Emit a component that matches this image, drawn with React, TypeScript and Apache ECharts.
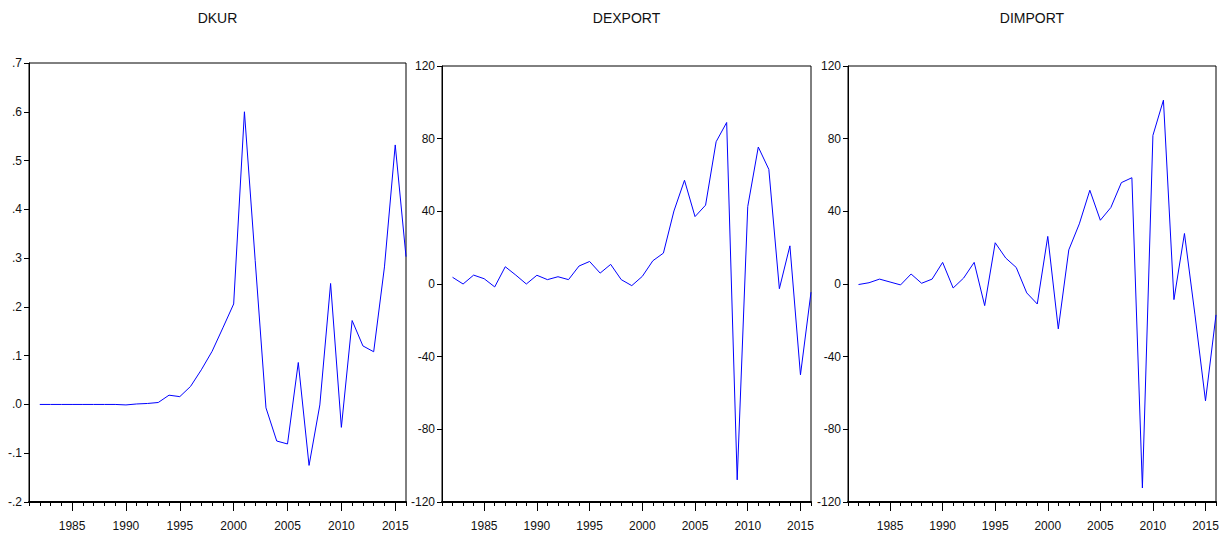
import React, { useEffect, useRef } from "react";
import * as echarts from "echarts";

const years = [1982, 1983, 1984, 1985, 1986, 1987, 1988, 1989, 1990, 1991, 1992, 1993, 1994, 1995, 1996, 1997, 1998, 1999, 2000, 2001, 2002, 2003, 2004, 2005, 2006, 2007, 2008, 2009, 2010, 2011, 2012, 2013, 2014, 2015, 2016];
const dkur = [0, 0, 0, 0, 0, 0, 0, 0, -0.001, 0.001, 0.002, 0.004, 0.019, 0.016, 0.037, 0.071, 0.109, 0.157, 0.206, 0.6, 0.295, -0.007, -0.075, -0.081, 0.086, -0.125, -0.001, 0.248, -0.047, 0.172, 0.12, 0.108, 0.282, 0.532, 0.303];
const dexport = [3.7, 0, 4.9, 2.9, -1.6, 9.5, 4.9, 0, 4.8, 2.4, 4.0, 2.4, 9.9, 12.4, 6.0, 10.8, 2.4, -0.9, 4.2, 12.8, 17.0, 40.2, 57.1, 37.1, 43.4, 78.3, 88.9, -107.8, 42.6, 75.4, 63.1, -2.6, 21.0, -50.0, -4.5];
const dimport = [-0.3, 0.7, 2.7, 1.1, -0.5, 5.5, 0.4, 2.7, 11.9, -2.2, 3.3, 11.9, -11.9, 22.7, 14.3, 9.1, -4.9, -11.0, 26.2, -24.7, 18.8, 33.1, 51.6, 35.1, 42.1, 55.8, 58.5, -112.3, 81.8, 101.2, -8.6, 27.8, -17, -64.3, -17];
const titles = ["DKUR", "DEXPORT", "DIMPORT"];
const majorYears = [1985, 1990, 1995, 2000, 2005, 2010, 2015];
const allYears = [1981, 1982, 1983, 1984, 1985, 1986, 1987, 1988, 1989, 1990, 1991, 1992, 1993, 1994, 1995, 1996, 1997, 1998, 1999, 2000, 2001, 2002, 2003, 2004, 2005, 2006, 2007, 2008, 2009, 2010, 2011, 2012, 2013, 2014, 2015, 2016];

const FONT = "'Liberation Sans Narrow', 'Arial Narrow', 'Liberation Sans', Arial, sans-serif";

export default function App() {
  const ref = useRef<HTMLDivElement>(null);
  useEffect(() => {
    if (!ref.current) return;
    const chart = echarts.init(ref.current, undefined, { renderer: "svg" });
    const grids = [
      { left: 29, top: 63, width: 377, height: 439 },
      { left: 442, top: 66, width: 369, height: 436 },
      { left: 848, top: 66, width: 368, height: 436 },
    ];
    const seriesData = [dkur, dexport, dimport];
    const yConf = [
      { min: -0.2, max: 0.7, interval: 0.1, fmt: (v: number) => v.toFixed(1).replace("0.", ".") },
      { min: -120, max: 120, interval: 40, fmt: (v: number) => String(Math.round(v)) },
      { min: -120, max: 120, interval: 40, fmt: (v: number) => String(Math.round(v)) },
    ];
    const xAxis: any[] = [];
    const yAxis: any[] = [];
    const series: any[] = [];
    grids.forEach((g, i) => {
      xAxis.push({
        type: "value", gridIndex: i, min: 1981, max: 2016, position: "bottom",
        splitLine: { show: false },
        axisLine: { show: true, onZero: false, lineStyle: { color: "#000", width: 2 } },
        axisTick: { show: true, length: 9, customValues: majorYears, lineStyle: { color: "#000", width: 1 } },
        axisLabel: { show: true, customValues: majorYears, margin: 18, color: "#111", fontSize: 12, fontFamily: FONT, formatter: (v: number) => String(v) },
      });
      xAxis.push({
        type: "value", gridIndex: i, min: 1981, max: 2016, position: "bottom",
        splitLine: { show: false },
        axisLine: { show: false, onZero: false },
        axisTick: { show: true, length: 4, customValues: allYears, lineStyle: { color: "#000", width: 1 } },
        axisLabel: { show: false },
      });
      const yc = yConf[i];
      yAxis.push({
        type: "value", gridIndex: i, min: yc.min, max: yc.max, interval: yc.interval,
        splitLine: { show: false },
        axisLine: { show: true, onZero: false, lineStyle: { color: "#000", width: 1 } },
        axisTick: { show: true, length: 5, lineStyle: { color: "#000", width: 1 } },
        axisLabel: { margin: 7, color: "#111", fontSize: 12, fontFamily: FONT, formatter: yc.fmt },
      });
      series.push({
        type: "line", xAxisIndex: i * 2, yAxisIndex: i,
        data: years.map((y, k) => [y, seriesData[i][k]]),
        showSymbol: false, symbol: "none",
        lineStyle: { color: "#0000ff", width: 1 },
        clip: true,
      });
    });
    chart.setOption({
      animation: false,
      backgroundColor: "#fff",
      grid: grids.map((g) => ({ ...g, show: true, borderColor: "#000", borderWidth: 1, backgroundColor: "transparent" })),
      xAxis, yAxis, series,
      graphic: grids.map((g, i) => ({
        type: "text",
        x: g.left + g.width / 2,
        y: 18,
        style: { text: titles[i], textAlign: "center", textVerticalAlign: "middle", fontSize: 14, fontFamily: FONT, fill: "#111" },
      })),
    });
    return () => chart.dispose();
  }, []);
  return <div ref={ref} style={{ position: "absolute", left: 0, top: 0, width: 1227, height: 543 }} />;
}
